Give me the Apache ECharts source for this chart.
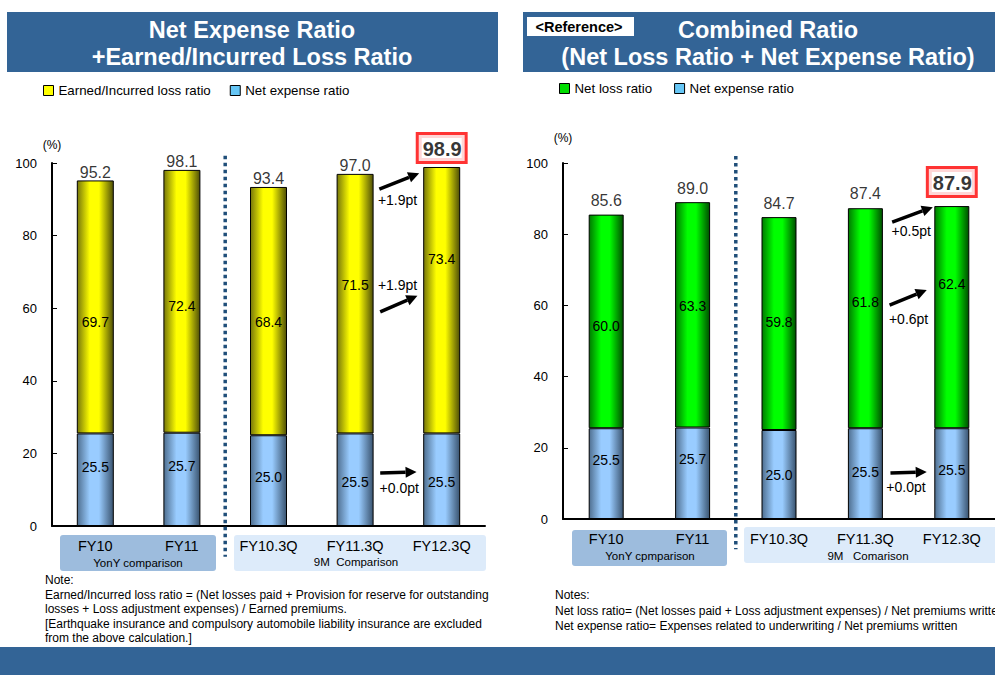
<!DOCTYPE html>
<html>
<head>
<meta charset="utf-8">
<script src="https://cdn.jsdelivr.net/npm/echarts@6/dist/echarts.min.js"></script>
<style>
  html, body { margin: 0; padding: 0; background: #fff; }
  #main { width: 995px; height: 675px; }
</style>
</head>
<body>
<div id="main"></div>
<script>
// ---- data ----
const categories = ['FY10', 'FY11', 'FY10.3Q', 'FY11.3Q', 'FY12.3Q'];

// left: net expense ratio + earned/incurred loss ratio
const expenseRatio = [25.5, 25.7, 25.0, 25.5, 25.5];
const earnedLossRatio = [69.7, 72.4, 68.4, 71.5, 73.4];
const leftTotals = [95.2, 98.1, 93.4, 97.0, 98.9];

// right: combined ratio (net loss ratio + net expense ratio)
const netExpenseRatio = [25.5, 25.7, 25.0, 25.5, 25.5];
const netLossRatio = [60.0, 63.3, 59.8, 61.8, 62.4];
const rightTotals = [85.6, 89.0, 84.7, 87.4, 87.9];

// label nudges (pixels) so the inside labels sit where the slide has them
const lossLabelDy = [15, 5, 11, -19, -41];
const expLabelDy = [-13, -13, -4, 2, 2];
const netLossLabelDy = [5, -9, -2, -16, -33];
const netExpLabelDy = [-14, -14, 0, -2, -4];

// change annotations: [category position, value]
const leftNotes = [
  { from: [3.28, 92.8], to: [3.74, 97.2], text: '+1.9pt', at: [3.49, 89.8] },
  { from: [3.29, 59.0], to: [3.72, 63.4], text: '+1.9pt', at: [3.49, 66.4] },
  { from: [3.29, 14.6], to: [3.71, 14.9], text: '+0.0pt', at: [3.51, 10.5] }
];
const rightNotes = [
  { from: [3.31, 83.4], to: [3.78, 87.6], text: '+0.5pt', at: [3.53, 80.9] },
  { from: [3.28, 60.1], to: [3.71, 64.3], text: '+0.6pt', at: [3.50, 56.2] },
  { from: [3.29, 12.9], to: [3.71, 13.2], text: '+0.0pt', at: [3.47, 9.0] }
];

const FONT = '"Liberation Sans", Arial, sans-serif';
const BLUE_BAR = '#336496';

const chart = echarts.init(document.getElementById('main'), null, { renderer: 'svg' });

function barGrad(edgeL, mid, edgeR) {
  return new echarts.graphic.LinearGradient(0, 0, 1, 0, [
    { offset: 0, color: edgeL },
    { offset: 0.35, color: mid },
    { offset: 0.6, color: mid },
    { offset: 1, color: edgeR }
  ]);
}
const yellow = barGrad('#77770a', '#ffff00', '#4f4f08');
const lightBlue = barGrad('#4f6f90', '#99ccff', '#3a5470');
const green = barGrad('#007a00', '#00ff00', '#004f00');

function barSeries(name, data, g, stack, color, dys, width) {
  return {
    name: name,
    type: 'bar',
    xAxisIndex: g,
    yAxisIndex: g,
    stack: stack,
    barWidth: width,
    data: data.map((v, i) => ({ value: v, label: { offset: [0, dys[i]] } })),
    itemStyle: { color: color, borderColor: '#000', borderWidth: 1 },
    label: {
      show: true, position: 'inside', color: '#000', fontSize: 14,
      fontFamily: FONT, textBorderWidth: 0,
      formatter: p => data[p.dataIndex].toFixed(1)
    },
    emphasis: { disabled: true },
    silent: true
  };
}

function totalSeries(totals, g, dist, boxDist) {
  const last = totals.length - 1;
  return {
    type: 'scatter',
    xAxisIndex: g,
    yAxisIndex: g,
    symbolSize: 0,
    silent: true,
    z: 5,
    data: totals.map((v, i) => i === last ? {
      value: v,
      label: {
        fontSize: 20, fontWeight: 'bold', borderColor: '#ff0000', borderWidth: 3,
        backgroundColor: '#fff', padding: [4, 3, 2, 4], distance: boxDist
      }
    } : v),
    label: {
      show: true, position: 'top', distance: dist, fontSize: 16, color: '#000',
      fontFamily: FONT, formatter: p => totals[p.dataIndex].toFixed(1)
    }
  };
}

function xAxisOf(g) {
  return {
    type: 'category', gridIndex: g, data: categories,
    axisLine: { lineStyle: { color: '#000', width: 2 } },
    axisTick: { inside: true, length: 5, lineStyle: { color: '#000', width: 1 } },
    axisLabel: { fontSize: 14.5, color: '#000', margin: 12, fontFamily: FONT, interval: 0 },
    splitLine: { show: false }
  };
}
function yAxisOf(g, gap) {
  return {
    type: 'value', gridIndex: g, min: 0, max: 100, interval: 20,
    name: '(%)', nameLocation: 'end', nameGap: gap,
    nameTextStyle: { fontSize: 12, color: '#000', fontFamily: FONT, align: 'center' },
    axisLine: { show: true, lineStyle: { color: '#000', width: 2 } },
    axisTick: { show: true, inside: true, length: 5, lineStyle: { color: '#000' } },
    axisLabel: { fontSize: 13, color: '#000', margin: 15, fontFamily: FONT },
    splitLine: { show: false }
  };
}

const legendText = { fontSize: 13.3, color: '#000', fontFamily: FONT };

chart.setOption({
  animation: false,
  grid: [
    { left: 52, top: 163, width: 433, height: 363, outerBoundsMode: 'none' },
    { left: 563, top: 163, width: 432, height: 356, outerBoundsMode: 'none' }
  ],
  legend: [
    {
      left: 38, top: 79, itemWidth: 10, itemHeight: 10, itemGap: 19, icon: 'rect',
      selectedMode: false, textStyle: legendText,
      data: [
        { name: 'Earned/Incurred loss ratio', itemStyle: { color: '#ffff00', borderColor: '#000', borderWidth: 1 } },
        { name: 'Net expense ratio', itemStyle: { color: '#66c6f5', borderColor: '#000', borderWidth: 1 } }
      ]
    },
    {
      left: 554, top: 77, itemWidth: 10, itemHeight: 10, itemGap: 22, icon: 'rect',
      selectedMode: false, textStyle: legendText,
      data: [
        { name: 'Net loss ratio', itemStyle: { color: '#00dd00', borderColor: '#000', borderWidth: 1 } },
        { name: 'Net expense ratio', itemStyle: { color: '#66c6f5', borderColor: '#000', borderWidth: 1 } }
      ]
    }
  ],
  xAxis: [xAxisOf(0), xAxisOf(1)],
  yAxis: [yAxisOf(0, 12), yAxisOf(1, 19)],
  series: [
    barSeries('Net expense ratio', expenseRatio, 0, 'left', lightBlue, expLabelDy, 37),
    barSeries('Earned/Incurred loss ratio', earnedLossRatio, 0, 'left', yellow, lossLabelDy, 37),
    totalSeries(leftTotals, 0, 0, 6),
    barSeries('Net expense ratio', netExpenseRatio, 1, 'right', lightBlue, netExpLabelDy, 35),
    barSeries('Net loss ratio', netLossRatio, 1, 'right', green, netLossLabelDy, 35),
    totalSeries(rightTotals, 1, 6, 11)
  ]
});

// ---- slide furniture and annotations ----
function px(g, cat, val) {
  const i = Math.floor(cat), f = cat - i;
  const a = chart.convertToPixel({ gridIndex: g }, [i, val]);
  const b = chart.convertToPixel({ gridIndex: g }, [i + 1, val]);
  return [a[0] + (b[0] - a[0]) * f, a[1]];
}

function text(str, x, y, opt) {
  return {
    type: 'text', x: x, y: y, silent: true, z: opt.z || 10,
    style: Object.assign({
      text: str, fill: '#000', fontFamily: FONT, fontSize: 12,
      align: 'left', verticalAlign: 'middle'
    }, opt.style || {})
  };
}

function arrow(g, n) {
  const p1 = px(g, n.from[0], n.from[1]);
  const p2 = px(g, n.to[0], n.to[1]);
  const dx = p2[0] - p1[0], dy = p2[1] - p1[1];
  const len = Math.sqrt(dx * dx + dy * dy);
  const ux = dx / len, uy = dy / len;
  const hl = 11, hw = 5.5;
  const bx = p2[0] - ux * hl, by = p2[1] - uy * hl;
  const t = px(g, n.at[0], n.at[1]);
  return [
    { type: 'line', silent: true, z: 10,
      shape: { x1: p1[0], y1: p1[1], x2: bx, y2: by },
      style: { stroke: '#000', lineWidth: 3.5 } },
    { type: 'polygon', silent: true, z: 10,
      shape: { points: [[p2[0], p2[1]], [bx - uy * hw, by + ux * hw], [bx + uy * hw, by - ux * hw]] },
      style: { fill: '#000' } },
    text(n.text, t[0], t[1], { style: { fontSize: 14, align: 'center' } })
  ];
}

function separator(g) {
  const top = px(g, 1.5, 102), bot = px(g, 1.5, -8.5);
  return {
    type: 'line', silent: true, z: 10,
    shape: { x1: top[0], y1: top[1], x2: bot[0], y2: bot[1] },
    style: { stroke: '#1f4e79', lineWidth: 3.5, lineDash: [3.5, 3.5] }
  };
}

const titleStyle = { fontSize: 23.5, fontWeight: 'bold', fill: '#fff', align: 'center' };
const noteStyle = { fontSize: 12 };

const elements = [
  // banners
  { type: 'rect', shape: { x: 7, y: 12, width: 491, height: 60 }, style: { fill: BLUE_BAR }, silent: true },
  { type: 'rect', shape: { x: 523, y: 12, width: 472, height: 60 }, style: { fill: BLUE_BAR }, silent: true },
  { type: 'rect', shape: { x: 0, y: 647, width: 995, height: 28 }, style: { fill: BLUE_BAR }, silent: true },
  { type: 'rect', shape: { x: 527, y: 17, width: 107, height: 19 }, style: { fill: '#fff' }, silent: true },
  text('<Reference>', 579, 27, { style: { fontSize: 14.5, fontWeight: 'bold', align: 'center' } }),
  text('Net Expense Ratio', 252, 30, { style: titleStyle }),
  text('+Earned/Incurred Loss Ratio', 252, 57, { style: titleStyle }),
  text('Combined Ratio', 768, 30, { style: titleStyle }),
  text('(Net Loss Ratio + Net Expense Ratio)', 768, 57, { style: titleStyle }),
  // category group boxes
  { type: 'rect', z: -5, silent: true, shape: { x: 60, y: 535, width: 156, height: 36, r: 3 }, style: { fill: '#9dbcdd' } },
  { type: 'rect', z: -5, silent: true, shape: { x: 234, y: 535, width: 252, height: 36, r: 3 }, style: { fill: '#ddebfa' } },
  { type: 'rect', z: -5, silent: true, shape: { x: 572, y: 530, width: 155, height: 36, r: 3 }, style: { fill: '#9dbcdd' } },
  { type: 'rect', z: -5, silent: true, shape: { x: 744, y: 527, width: 255, height: 36, r: 3 }, style: { fill: '#ddebfa' } },
  text('YonY comparison', 138, 563, { style: { fontSize: 11.5, align: 'center' } }),
  text('9M  Comparison', 356, 562, { style: { fontSize: 11.5, align: 'center' } }),
  text('YonY cpmparison', 650, 556, { style: { fontSize: 11.5, align: 'center' } }),
  text('9M   Comarison', 868, 556, { style: { fontSize: 11.5, align: 'center' } }),
  // notes
  text('Note:', 45, 580, { style: noteStyle }),
  text('Earned/Incurred loss ratio = (Net losses paid + Provision for reserve for outstanding', 45, 594.5, { style: noteStyle }),
  text('losses + Loss adjustment expenses) / Earned premiums.', 45, 609, { style: noteStyle }),
  text('[Earthquake insurance and compulsory automobile liability insurance are excluded', 45, 623.5, { style: noteStyle }),
  text('from the above calculation.]', 45, 638, { style: noteStyle }),
  text('Notes:', 555, 595, { style: noteStyle }),
  text('Net loss ratio= (Net losses paid + Loss adjustment expenses) / Net premiums written', 555, 611, { style: noteStyle }),
  text('Net expense ratio= Expenses related to underwriting / Net premiums written', 555, 625.5, { style: noteStyle }),
  separator(0),
  separator(1)
];
leftNotes.forEach(n => elements.push(...arrow(0, n)));
rightNotes.forEach(n => elements.push(...arrow(1, n)));

chart.setOption({ graphic: { elements: elements } });
</script>
</body>
</html>
